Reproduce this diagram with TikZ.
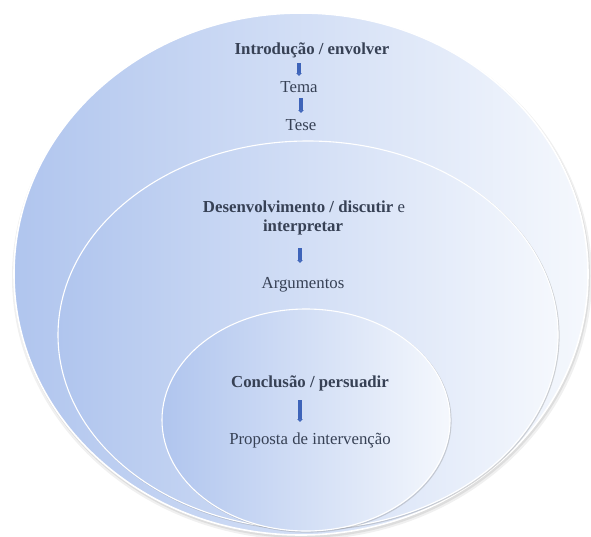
\documentclass[tikz,border=0pt]{standalone}
\usepackage{fontspec}
\setmainfont{Liberation Serif}
\usetikzlibrary{arrows.meta}
\definecolor{ellL}{RGB}{176,197,238}
\definecolor{ellR}{RGB}{245,248,253}
\definecolor{txt}{RGB}{55,65,85}
\definecolor{arrc}{RGB}{62,100,185}
\begin{document}
\begin{tikzpicture}[x=1pt,y=-1pt,
  lbl/.style={font=\fontsize{16.8}{20}\selectfont, text=txt, inner sep=0pt, text height=11pt, text depth=3pt},
  hd/.style={lbl, font=\fontsize{16.8}{20}\selectfont\bfseries},
  arr/.style={draw=arrc, line width=3.4pt, -{Triangle[width=5.4pt,length=2.8pt]}},
  ring/.style={left color=ellL, right color=ellR, draw=white, line width=1.1pt},
  rimline/.style={draw=black!45, opacity=0.35, line width=1.2pt}
]
\useasboundingbox[fill=white] (0,0) rectangle (591,536);
% outer ring with soft shadow
\fill[black, opacity=0.06] (302,277) ellipse [x radius=290pt, y radius=263pt];
\fill[black, opacity=0.08] (302,276) ellipse [x radius=288pt, y radius=262pt];
\shade[ring, line width=1.6pt] (301,274) ellipse [x radius=287pt, y radius=261pt];
% middle ring
\draw[rimline] (309,336) ellipse [x radius=250pt, y radius=194pt];
\shade[ring] (308,335) ellipse [x radius=250pt, y radius=194pt];
% inner ring
\draw[rimline] (307,421) ellipse [x radius=144pt, y radius=111pt];
\shade[ring] (306,420) ellipse [x radius=144pt, y radius=111pt];
% texts
\node[hd] (intro) at (312,50) {Introdução / envolver};
\node[lbl] (tema) at (299,88) {Tema};
\node[lbl] (tese) at (301,126) {Tese};
\node[hd] (dev1) at (304,208) {Desenvolvimento / discutir \mdseries e};
\node[hd] (dev2) at (303,227) {interpretar};
\node[lbl] (args) at (303,284) {Argumentos};
\node[hd] (conc) at (310,383) {Conclusão / persuadir};
\node[lbl] (prop) at (310,440) {Proposta de intervenção};
% connectors
\draw[arr, shorten <=6pt, shorten >=5pt] (intro.south -| tema.north) -- (tema.north);
\draw[arr, shorten <=3pt, shorten >=6pt] (tema.south -| tese.north) -- (tese.north);
\draw[arr, shorten <=14pt, shorten >=14pt] ([xshift=-3pt]dev2.south) -- ([xshift=-3pt]args.north);
\draw[arr, shorten <=10pt, shorten >=11pt] ([xshift=-10pt]conc.south) -- ([xshift=-10pt]prop.north);
\end{tikzpicture}
\end{document}
